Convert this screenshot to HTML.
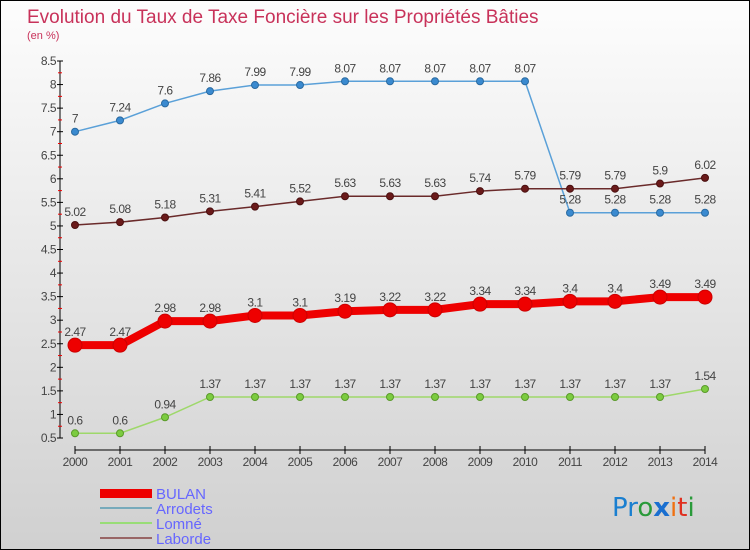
<!DOCTYPE html>
<html><head><meta charset="utf-8"><style>
body{margin:0}
#wrap{width:750px;height:550px;position:relative;overflow:hidden;font-family:"Liberation Sans",sans-serif}
</style></head><body>
<div id="wrap">
<svg id="svg" width="750" height="550">
<defs><linearGradient id="bg" x1="0" y1="0" x2="0" y2="1"><stop offset="0" stop-color="#fdfdfd"/><stop offset="1" stop-color="#d0d0d0"/></linearGradient></defs>
<rect x="0.5" y="0.5" width="749" height="549" fill="url(#bg)" stroke="#000"/>
<text x="27" y="23" font-size="19" fill="#c8325a">Evolution du Taux de Taxe Foncière sur les Propriétés Bâties</text>
<text x="27" y="39" font-size="11" fill="#c8325a">(en %)</text>
<g id="axes"></g><g id="series"></g>
<g>
<rect x="100" y="489" width="52" height="9" fill="#e00"/>
<text x="156" y="499" font-size="15" fill="#6666ff">BULAN</text>
<rect x="100" y="507" width="52" height="2" fill="#7ab"/>
<text x="156" y="514" font-size="15" fill="#6666ff">Arrodets</text>
<rect x="100" y="522" width="52" height="2" fill="#9d7"/>
<text x="156" y="529" font-size="15" fill="#6666ff">Lomné</text>
<rect x="100" y="537" width="52" height="2" fill="#966"/>
<text x="156" y="544" font-size="15" fill="#6666ff">Laborde</text>
</g>
<text x="612" y="516" font-size="26" font-family="DejaVu Sans"><tspan fill="#1a7fd0">Pr</tspan><tspan fill="#2a9a3a">o</tspan><tspan fill="#1a6fd0" font-weight="bold">x</tspan><tspan fill="#f07010">i</tspan><tspan fill="#e03020">t</tspan><tspan fill="#2a9a3a">i</tspan></text>
</svg></div>
<script>
const years=[2000,2001,2002,2003,2004,2005,2006,2007,2008,2009,2010,2011,2012,2013,2014];
const yTicks=[0.5,1,1.5,2,2.5,3,3.5,4,4.5,5,5.5,6,6.5,7,7.5,8,8.5];
const bulan=[2.47,2.47,2.98,2.98,3.1,3.1,3.19,3.22,3.22,3.34,3.34,3.4,3.4,3.49,3.49];
const arrodets=[7,7.24,7.6,7.86,7.99,7.99,8.07,8.07,8.07,8.07,8.07,5.28,5.28,5.28,5.28];
const lomne=[0.6,0.6,0.94,1.37,1.37,1.37,1.37,1.37,1.37,1.37,1.37,1.37,1.37,1.37,1.54];
const laborde=[5.02,5.08,5.18,5.31,5.41,5.52,5.63,5.63,5.63,5.74,5.79,5.79,5.79,5.9,6.02];
const NS='http://www.w3.org/2000/svg';
const xs=i=>75+i*45;
const ys=v=>438-(v-0.5)*(377/8);
function mk(t,a,p){const e=document.createElementNS(NS,t);for(const k in a)e.setAttribute(k,a[k]);p.appendChild(e);return e;}
const ax=document.getElementById('axes');
const ya=mk('line',{x1:60,y1:61,x2:60,y2:438,stroke:'#000'},ax);


yTicks.forEach(v=>{
 const y=ys(v);
 mk('line',{x1:57,y1:y,x2:63,y2:y,stroke:'#000'},ax);
 mk('line',{x1:58,y1:y+11.8,x2:62,y2:y+11.8,stroke:v==0.5?'none':'#e00'},ax);
 const t=mk('text',{x:56,y:y+4,'font-size':12,fill:'#444','text-anchor':'end','letter-spacing':'-0.5'},ax);
 t.textContent=v;
 
 
});
const xa=mk('line',{x1:75,y1:450,x2:705,y2:450,stroke:'#000'},ax);


years.forEach((yr,i)=>{
 mk('line',{x1:xs(i),y1:446,x2:xs(i),y2:454,stroke:'#000'},ax);
 const t=mk('text',{x:xs(i),y:466,'font-size':12,fill:'#444','text-anchor':'middle','letter-spacing':'-0.5'},ax);
 t.textContent=yr;
 
 
});
const sg=document.getElementById('series');
function draw(name,data,color,w,r,dot,dotStroke){
 const g=mk('g',{},sg);
 
 
 mk('polyline',{points:data.map((v,i)=>xs(i)+','+ys(v)).join(' '),fill:'none',stroke:color,'stroke-width':w},g);
 data.forEach((v,i)=>{
  const c=mk('circle',{cx:xs(i),cy:ys(v),r:r,fill:dot,stroke:dotStroke,'stroke-width':1},g);
  
  
  const t=mk('text',{x:xs(i),y:ys(v)-9,'font-size':12,fill:'#444','text-anchor':'middle','letter-spacing':'-0.5'},g);
  t.textContent=v;
  
  
 });
}
draw('arrodets',arrodets,'#5aa0d8',1.5,3.5,'#3a8ad0','#2a6aa0');
draw('laborde',laborde,'#6a2a2a',1.5,3.5,'#6a1a1a','#4a1010');
draw('lomne',lomne,'#9ed86a',1.5,3.5,'#7ccc40','#5a9a2a');
draw('bulan',bulan,'#ee0000',8,7,'#ee0000','#c00');
</script>
</body></html>
